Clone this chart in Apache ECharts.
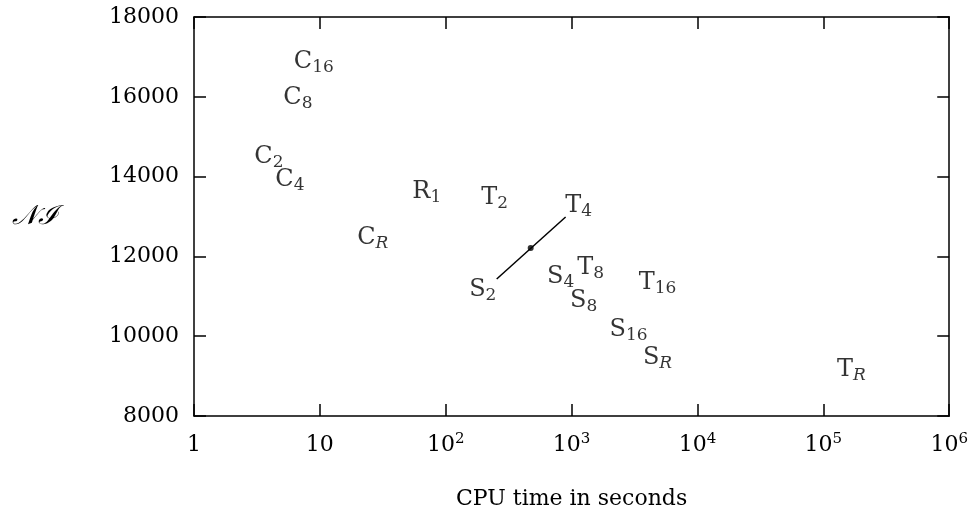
<!DOCTYPE html>
<html>
<head>
<meta charset="utf-8">
<script src="https://cdn.jsdelivr.net/npm/echarts@6/dist/echarts.min.js"></script>
<style>
  html, body { margin: 0; background: #fff; }
  #chart { width: 971px; height: 523px; }
</style>
</head>
<body>
<div id="chart"></div>
<script>
// point labels: letter + subscript
var letters = ['C', 'C', 'C', 'C', 'C', 'R', 'T', 'T', 'S', 'S', 'T', 'S', 'T', 'S', 'S', 'T'];
var subs = ['16', '8', '2', '4', 'R', '1', '2', '4', '2', '4', '8', '8', '16', '16', 'R', 'R'];
var cpuTimes = [8.96, 6.69, 3.94, 5.78, 26.3, 70.7, 245, 1137, 197, 818, 1416, 1245, 4816, 2833, 4816, 166700];
var niValues = [16872, 15970, 14491, 13915, 12461, 13614, 13464, 13263, 11158, 11484, 11709, 10882, 11333, 10155, 9454, 9153];

// segment S2 -> T4 with a dot on it
var segmentX = [254, 896];
var segmentY = [11434, 12987];
var dotX = [473];
var dotY = [12211];

var xExponents = [0, 1, 2, 3, 4, 5, 6];
var yTicks = [8000, 10000, 12000, 14000, 16000, 18000];

var FONT = 'DejaVu Serif';

var pointData = [];
for (var i = 0; i < letters.length; i++) {
  pointData.push({ value: [cpuTimes[i], niValues[i]], name: letters[i] + '|' + subs[i] });
}
var segData = segmentX.map(function (x, i) { return [x, segmentY[i]]; });
var dotData = dotX.map(function (x, i) { return [x, dotY[i]]; });

function xLabel(v) {
  var e = Math.round(Math.log10(v));
  if (xExponents.indexOf(e) < 0) return '';
  if (e === 0) return '{m|1}';
  if (e === 1) return '{m|10}';
  return '{m|10}{sup|' + e + '}';
}

function yLabel(v) {
  return yTicks.indexOf(v) < 0 ? '' : String(v);
}

var chart = echarts.init(document.getElementById('chart'));
var option = {
  animation: false,
  backgroundColor: '#fff',
  grid: { left: 194, right: 21, top: 17, bottom: 107 },
  xAxis: [
    {
      type: 'log',
      logBase: 10,
      min: 1,
      max: 1000000,
      name: 'CPU time in seconds',
      nameLocation: 'middle',
      nameGap: 72,
      nameTextStyle: { fontFamily: FONT, fontSize: 22, color: '#000' },
      axisLine: { lineStyle: { color: '#000', width: 1.5 } },
      axisTick: { inside: true, length: 12, lineStyle: { color: '#000', width: 1.5 } },
      minorTick: { show: false },
      splitLine: { show: false },
      axisLabel: {
        margin: 16,
        formatter: xLabel,
        rich: {
          m: { fontFamily: FONT, fontSize: 22, color: '#000', lineHeight: 26 },
          sup: { fontFamily: FONT, fontSize: 15, color: '#000', lineHeight: 15, verticalAlign: 'top' }
        }
      }
    },
    {
      type: 'log',
      logBase: 10,
      min: 1,
      max: 1000000,
      position: 'top',
      axisLine: { lineStyle: { color: '#000', width: 1.5 } },
      axisTick: { inside: true, length: 12, lineStyle: { color: '#000', width: 1.5 } },
      axisLabel: { show: false },
      splitLine: { show: false }
    }
  ],
  yAxis: [
    {
      type: 'value',
      min: 8000,
      max: 18000,
      interval: 2000,
      name: '𝒩ℐ',
      nameLocation: 'middle',
      nameRotate: 0,
      nameGap: 137,
      nameTextStyle: { fontFamily: FONT, fontSize: 27, color: '#000', fontStyle: 'italic' },
      axisLine: { show: true, lineStyle: { color: '#000', width: 1.5 } },
      axisTick: { show: true, inside: true, length: 12, lineStyle: { color: '#000', width: 1.5 } },
      splitLine: { show: false },
      axisLabel: { margin: 15, fontFamily: FONT, fontSize: 22, color: '#000', formatter: yLabel }
    },
    {
      type: 'value',
      min: 8000,
      max: 18000,
      interval: 2000,
      position: 'right',
      axisLine: { show: true, lineStyle: { color: '#000', width: 1.5 } },
      axisTick: { show: true, inside: true, length: 12, lineStyle: { color: '#000', width: 1.5 } },
      splitLine: { show: false },
      axisLabel: { show: false }
    }
  ],
  series: [
    {
      type: 'scatter',
      data: pointData,
      symbolSize: 1,
      itemStyle: { color: 'rgba(0,0,0,0)' },
      label: {
        show: true,
        position: 'inside',
        formatter: function (p) {
          var parts = p.name.split('|');
          var subStyle = parts[1] === 'R' ? 'si' : 's';
          return '{m|' + parts[0] + '}{' + subStyle + '|' + parts[1] + '}';
        },
        rich: {
          m: { fontFamily: FONT, fontSize: 24, color: '#000', lineHeight: 28 },
          s: { fontFamily: FONT, fontSize: 17, color: '#000', lineHeight: 17, verticalAlign: 'bottom' },
          si: { fontFamily: FONT, fontSize: 17, color: '#000', lineHeight: 17, verticalAlign: 'bottom', fontStyle: 'italic' }
        }
      },
      emphasis: { disabled: true }
    },
    {
      type: 'line',
      data: segData,
      symbol: 'none',
      lineStyle: { color: '#000', width: 1.5 },
      emphasis: { disabled: true }
    },
    {
      type: 'scatter',
      data: dotData,
      symbol: 'circle',
      symbolSize: 6,
      itemStyle: { color: '#000' },
      emphasis: { disabled: true }
    }
  ]
};
chart.setOption(option);
</script>
</body>
</html>
